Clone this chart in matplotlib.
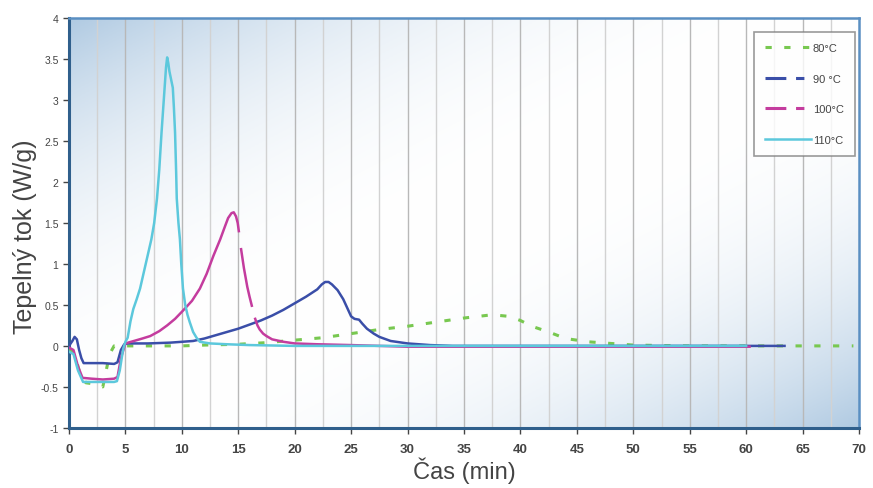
import numpy as np
import matplotlib
matplotlib.use('Agg')
import matplotlib.pyplot as plt
from matplotlib.lines import Line2D

plt.rcParams['font.family'] = ['Liberation Sans', 'DejaVu Sans']
plt.rcParams['lines.scale_dashes'] = False

# 80 °C
t80 = [0, 0.5, 1, 1.5, 2, 2.5, 3, 3.3, 3.6, 4, 5, 7, 10, 12, 15, 17.5, 20, 22.5, 25, 27.5,
       30, 32.5, 35, 37.5, 39, 40, 41, 42.5, 44, 46, 48, 50, 55, 60, 65, 69.5]
y80 = [-0.03, -0.1, -0.35, -0.45, -0.46, -0.48, -0.5, -0.3, -0.1, 0.0, 0.0, 0.0, 0.0, 0.01, 0.02,
       0.04, 0.07, 0.1, 0.15, 0.2, 0.24, 0.29, 0.34, 0.38, 0.36, 0.31, 0.24, 0.17, 0.09, 0.05, 0.03,
       0.01, 0.0, 0.0, 0.0, 0.0]

# 90 °C
t90 = [0, 0.3, 0.5, 0.7, 0.9, 1.1, 1.3, 2, 3, 4, 4.3, 4.6, 4.9, 5.2, 7, 9, 11, 12, 13, 14, 15, 16,
       17, 18, 19, 20, 21, 22, 22.4, 22.7, 23.0, 23.3, 23.8, 24.3, 24.7, 25.0, 25.3, 25.7, 26.0,
       26.4, 27, 27.5, 28.5, 30, 32, 34, 40, 50, 60, 63.4]
y90 = [0.0, 0.06, 0.11, 0.08, -0.05, -0.15, -0.21, -0.21, -0.21, -0.22, -0.2, -0.05, 0.02, 0.03,
       0.03, 0.04, 0.06, 0.09, 0.13, 0.17, 0.21, 0.26, 0.31, 0.37, 0.44, 0.52, 0.6, 0.69, 0.75,
       0.78, 0.78, 0.75, 0.68, 0.57, 0.45, 0.36, 0.33, 0.32, 0.27, 0.21, 0.15, 0.11, 0.06, 0.03,
       0.01, 0.0, 0.0, 0.0, 0.0, 0.0]

# 100 °C (nan = dash gaps on the steep part)
t100 = [0, 0.4, 0.8, 1.2, 2, 3, 4, 4.3, 4.6, 5.0, 5.5, 6.0, 6.5, 7.2, 8.0, 8.7, 9.4, 10.1, 10.9,
        11.6, 12.2, 12.8, 13.4, 13.8, 14.1, 14.4, 14.6, 14.8, 14.95, 15.05, 15.15, 15.25, 15.5,
        15.8, 16.0, 16.2, 16.35, 16.5, 16.7, 16.9, 17.2, 17.5, 18, 19, 20, 22, 25, 30, 40, 50,
        60.3]
y100 = [-0.02, -0.05, -0.25, -0.39, -0.4, -0.41, -0.4, -0.38, -0.15, 0.03, 0.05, 0.07, 0.09,
        0.12, 0.18, 0.25, 0.33, 0.43, 0.55, 0.7, 0.88, 1.1, 1.3, 1.45, 1.56, 1.62, 1.63, 1.58,
        1.5, 1.4, np.nan, 1.18, 0.95, 0.72, 0.6, 0.49, np.nan, 0.33, 0.25, 0.2, 0.15, 0.12, 0.08,
        0.05, 0.03, 0.02, 0.01, -0.01, -0.01, -0.01, -0.01]

# 110 °C
t110 = [0, 0.4, 0.8, 1.25, 2, 3, 4, 4.25, 4.5, 4.8, 5.0, 5.2, 5.45, 5.7, 6.0, 6.3, 6.6, 6.8, 7.05,
        7.3, 7.55, 7.8, 8.0, 8.2, 8.35, 8.5, 8.6, 8.7, 8.8, 8.9, 9.05, 9.2, 9.3, 9.4, 9.5, 9.55,
        9.7, 9.83, 9.95, 10.1, 10.3, 10.5, 10.7, 11.0, 11.3, 11.6, 12.5, 14, 16, 20, 30, 40, 50,
        60]
y110 = [-0.07, -0.1, -0.3, -0.44, -0.44, -0.44, -0.44, -0.43, -0.3, -0.04, 0.05, 0.1, 0.3,
        0.45, 0.57, 0.7, 0.88, 1.0, 1.15, 1.3, 1.5, 1.8, 2.15, 2.6, 2.9, 3.2, 3.4, 3.52, 3.45,
        3.35, 3.25, 3.15, 2.9, 2.6, 2.1, 1.8, 1.5, 1.3, 1.0, 0.7, 0.5, 0.38, 0.29, 0.17, 0.1,
        0.05, 0.03, 0.02, 0.01, 0.0, 0.0, 0.0, 0.0, 0.0]

labels = ['80°C', '90 °C', '100°C', '110°C']
colors = ['#78c850', '#3a4ea8', '#c43c9e', '#5cc8dc']

fig = plt.figure(figsize=(8.73, 4.89), dpi=100)
ax = fig.add_axes([0.079, 0.123, 0.905, 0.838])

# background gradient: blue in top-left and bottom-right corners
n = 200
gx, gy = np.meshgrid(np.linspace(0, 1, n), np.linspace(1, 0, n))
s = (gx + (1 - gy)) / 2
w = np.clip(np.abs(s - 0.5) * 2, 0, 1) ** 2.4
blue = np.array([176, 202, 226]) / 255.0
img = (1 - w[..., None]) * np.ones(3) + w[..., None] * blue
ax.imshow(img, extent=[0, 1, 0, 1], transform=ax.transAxes, aspect='auto', zorder=0)

for xv in np.arange(2.5, 70, 2.5):
    ax.axvline(xv, color='#b8b8b8' if xv % 5 == 0 else '#d2d2d2', lw=1, zorder=1)

ax.plot(t80, y80, color=colors[0], lw=2.2, dashes=(4.5, 9), zorder=3)
ax.plot(t90, y90, color=colors[1], lw=1.8, zorder=4)
ax.plot(t100, y100, color=colors[2], lw=1.8, zorder=5)
ax.plot(t110, y110, color=colors[3], lw=1.8, zorder=6)

ax.set_xlim(0, 70)
ax.set_ylim(-1, 4)
ax.set_xticks(np.arange(0, 71, 5))
ax.set_yticks(np.arange(-1, 4.01, 0.5))
ax.set_yticklabels(['-1', '-0.5', '0', '0.5', '1', '1.5', '2', '2.5', '3', '3.5', '4'])
ax.tick_params(axis='y', labelsize=7.5, colors='#444444', length=4, width=1, direction='out')
ax.tick_params(axis='x', labelsize=9.5, colors='#444444', length=4, width=1, direction='out',
               pad=7)
for lab in ax.get_xticklabels():
    lab.set_fontweight('bold')
    lab.set_color('#444444')

for side in ['left', 'bottom']:
    ax.spines[side].set_color('#2f5f8c')
    ax.spines[side].set_linewidth(2.2)
for side in ['top', 'right']:
    ax.spines[side].set_color('#5a8fc2')
    ax.spines[side].set_linewidth(1.8)

ax.set_xlabel('Čas (min)', fontsize=17, color='#444444', labelpad=1)
ax.set_ylabel('Tepelný tok (W/g)', fontsize=18, color='#444444')
ax.yaxis.set_label_coords(-0.04, 0.47)

handles = [
    Line2D([], [], color=colors[0], lw=2.2, dashes=(4.5, 9)),
    Line2D([], [], color=colors[1], lw=2.2, dashes=(15, 7, 6, 7)),
    Line2D([], [], color=colors[2], lw=2.2, dashes=(15, 7, 6, 7)),
    Line2D([], [], color=colors[3], lw=1.8),
]
leg = ax.legend(handles, labels, loc='upper right', bbox_to_anchor=(0.995, 0.966),
                fontsize=8, frameon=True, fancybox=False, edgecolor='#808080',
                labelspacing=1.85, handlelength=4.2, handletextpad=0.15, borderpad=1.0,
                borderaxespad=0)
leg.get_frame().set_linewidth(1.2)
for txt in leg.get_texts():
    txt.set_color('#444444')

fig.savefig('out.png', dpi=100)
